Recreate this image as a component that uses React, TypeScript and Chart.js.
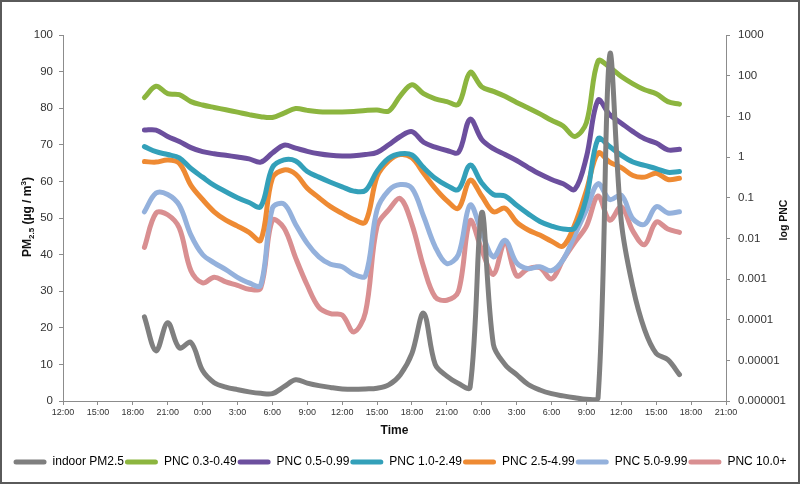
import React, { useEffect, useRef } from 'react';
import { Chart, registerables } from 'chart.js';

Chart.register(...registerables);

// hours since 0:00 of the first day (19 = 19:00 day 1, 65 = 17:00 day 3)
const HOURS = [19, 20, 21, 22, 23, 24, 25, 26, 27, 28, 29, 30, 31, 32, 33, 34, 35, 36, 37, 38, 39, 40, 41, 42, 43, 44, 45, 46, 47, 48, 49, 50, 51, 52, 53, 54, 55, 56, 57, 58, 59, 60, 61, 62, 63, 64, 65];

const INDOOR_PM25 = [23, 13.7, 21.4, 14.5, 16, 8.3, 5, 3.8, 3.1, 2.5, 2.1, 2.0, 3.9, 5.8, 4.9, 4.2, 3.7, 3.3, 3.2, 3.3, 3.5, 4.4, 7.2, 13, 24, 10, 6.8, 4.8, 3.7, 51.5, 15.5, 10, 7.2, 4.5, 3, 2, 1.4, 0.9, 0.5, 0.8, 94.5, 49, 31, 19.5, 13, 11.3, 7.2];

const PNC_03_049 = [29, 55, 36, 34, 23, 19, 16.5, 14.5, 12.7, 11, 9.8, 9.4, 12, 15.5, 14, 13, 12.8, 12.8, 13.2, 14, 14.4, 13.5, 32, 60, 36, 27, 23, 20, 120, 53, 41, 31, 22, 16, 11.5, 8, 5.8, 3.2, 7, 230, 160, 95, 63, 45, 36, 23, 20];

const PNC_05_099 = [4.6, 4.6, 3.2, 2.4, 1.7, 1.35, 1.2, 1.1, 1.0, 0.9, 0.75, 1.25, 1.95, 1.65, 1.38, 1.2, 1.1, 1.06, 1.07, 1.15, 1.3, 2.0, 3.2, 4.2, 2.3, 1.75, 1.45, 1.3, 8.5, 2.7, 1.6, 1.15, 0.82, 0.55, 0.38, 0.28, 0.22, 0.16, 1.0, 25, 11, 6.8, 4.2, 2.8, 2.2, 1.5, 1.55];

const PNC_10_249 = [1.8, 1.35, 1.15, 0.95, 0.52, 0.32, 0.2, 0.14, 0.1, 0.076, 0.06, 0.55, 0.85, 0.8, 0.44, 0.32, 0.24, 0.185, 0.145, 0.15, 0.45, 0.93, 1.2, 1.12, 0.55, 0.3, 0.2, 0.16, 0.63, 0.23, 0.12, 0.11, 0.065, 0.04, 0.026, 0.02, 0.017, 0.018, 0.1, 2.8, 1.8, 1.1, 0.75, 0.62, 0.52, 0.42, 0.44];

const PNC_25_499 = [0.77, 0.75, 0.84, 0.7, 0.2, 0.09, 0.045, 0.028, 0.02, 0.014, 0.009, 0.3, 0.48, 0.38, 0.17, 0.1, 0.06, 0.041, 0.029, 0.025, 0.33, 0.8, 1.15, 0.95, 0.4, 0.17, 0.085, 0.055, 0.27, 0.11, 0.045, 0.055, 0.025, 0.016, 0.012, 0.0085, 0.0065, 0.022, 0.15, 1.25, 0.75, 0.55, 0.35, 0.32, 0.4, 0.28, 0.3];

const PNC_50_999 = [0.045, 0.13, 0.12, 0.065, 0.012, 0.004, 0.0025, 0.0017, 0.0011, 0.0008, 0.0007, 0.055, 0.07, 0.022, 0.0075, 0.0035, 0.0023, 0.002, 0.0013, 0.0012, 0.05, 0.15, 0.21, 0.17, 0.035, 0.0062, 0.0024, 0.004, 0.066, 0.014, 0.0035, 0.009, 0.0025, 0.0018, 0.002, 0.0016, 0.003, 0.012, 0.05, 0.22, 0.09, 0.115, 0.03, 0.022, 0.06, 0.042, 0.045];

const PNC_100_PLUS = [0.006, 0.042, 0.038, 0.018, 0.0016, 0.0008, 0.0011, 0.00085, 0.0007, 0.00056, 0.0006, 0.028, 0.018, 0.0033, 0.0007, 0.0002, 0.00014, 0.00013, 0.00005, 0.00015, 0.02, 0.05, 0.095, 0.022, 0.002, 0.00036, 0.0003, 0.0005, 0.027, 0.0052, 0.0013, 0.008, 0.0012, 0.0018, 0.0019, 0.001, 0.003, 0.008, 0.02, 0.11, 0.028, 0.06, 0.015, 0.007, 0.025, 0.017, 0.014];

const SERIES_LABELS = ['indoor PM2.5', 'PNC 0.3-0.49', 'PNC 0.5-0.99', 'PNC 1.0-2.49', 'PNC 2.5-4.99', 'PNC 5.0-9.99', 'PNC 10.0+'];
const SERIES_COLORS = ['#7f7f7f', '#8cb53f', '#6c4f9e', '#33a0b9', '#ee8a33', '#94b1dc', '#d98f91'];

const X_MIN = 12;
const X_MAX = 69;
const X_STEP = 3;

const LEFT_MIN = 0;
const LEFT_MAX = 100;
const LEFT_STEP = 10;

const RIGHT_TICK_VALUES = [0.000001, 0.00001, 0.0001, 0.001, 0.01, 0.1, 1, 10, 100, 1000];
const RIGHT_TICK_LABELS = ['0.000001', '0.00001', '0.0001', '0.001', '0.01', '0.1', '1', '10', '100', '1000'];

const X_TITLE = 'Time';
const RIGHT_TITLE = 'log PNC';

const FONT = '"Liberation Sans", Arial, Helvetica, sans-serif';

type Part = { text: string; size: number; dy: number };

function drawRotated(ctx: CanvasRenderingContext2D, parts: Part[], cx: number, cy: number) {
  ctx.save();
  ctx.translate(cx, cy);
  ctx.rotate(-Math.PI / 2);
  ctx.textAlign = 'left';
  ctx.textBaseline = 'alphabetic';
  ctx.fillStyle = '#111';
  let total = 0;
  for (const p of parts) {
    ctx.font = `bold ${p.size}px ${FONT}`;
    total += ctx.measureText(p.text).width;
  }
  let x = -total / 2;
  for (const p of parts) {
    ctx.font = `bold ${p.size}px ${FONT}`;
    ctx.fillText(p.text, x, 4 + p.dy);
    x += ctx.measureText(p.text).width;
  }
  ctx.restore();
}

const titlesPlugin = {
  id: 'verticalTitles',
  afterDraw(chart: any) {
    const ctx = chart.ctx as CanvasRenderingContext2D;
    const area = chart.chartArea;
    const cy = (area.top + area.bottom) / 2;
    drawRotated(
      ctx,
      [
        { text: 'PM', size: 12, dy: 0 },
        { text: '2.5', size: 8, dy: 3 },
        { text: ' (µg / m', size: 12, dy: 0 },
        { text: '3', size: 8, dy: -5 },
        { text: ')', size: 12, dy: 0 },
      ],
      25,
      cy - 1
    );
    drawRotated(ctx, [{ text: RIGHT_TITLE, size: 10.5, dy: 0 }], 781, cy + 2);
  },
};

export default function App() {
  const canvasRef = useRef<HTMLCanvasElement | null>(null);

  useEffect(() => {
    const canvas = canvasRef.current;
    if (!canvas) return;
    const seriesValues = [INDOOR_PM25, PNC_03_049, PNC_05_099, PNC_10_249, PNC_25_499, PNC_50_999, PNC_100_PLUS];
    const datasets = seriesValues.map((vals, i) => ({
      label: SERIES_LABELS[i],
      data: HOURS.map((h, j) => ({ x: h, y: vals[j] })),
      yAxisID: i === 0 ? 'y' : 'y1',
      borderColor: SERIES_COLORS[i],
      backgroundColor: SERIES_COLORS[i],
      borderWidth: 5,
      borderCapStyle: 'round' as const,
      borderJoinStyle: 'round' as const,
      pointRadius: 0,
      pointHoverRadius: 0,
      tension: 0.35,
      fill: false,
    }));

    const axisColor = '#8c8c8c';

    const chart = new Chart(canvas, {
      type: 'line',
      data: { datasets },
      plugins: [titlesPlugin],
      options: {
        animation: false,
        responsive: false,
        maintainAspectRatio: false,
        layout: { padding: { top: 33, left: 0, right: 0, bottom: 4 } },
        plugins: {
          tooltip: { enabled: false },
          legend: {
            display: true,
            position: 'bottom',
            labels: {
              boxWidth: 33,
              boxHeight: 5,
              padding: 1,
              color: '#222',
              useBorderRadius: true,
              borderRadius: 2.5,
              font: { family: FONT, size: 12 },
              generateLabels: (c: any) =>
                c.data.datasets.map((d: any, i: number) => ({
                  text: d.label,
                  fillStyle: SERIES_COLORS[i],
                  strokeStyle: SERIES_COLORS[i],
                  lineWidth: 0,
                  hidden: false,
                  datasetIndex: i,
                  borderRadius: 2.5,
                })),
            },
          },
        },
        scales: {
          x: {
            type: 'linear',
            min: X_MIN,
            max: X_MAX,
            afterFit: (s: any) => {
              s.height = 54;
            },
            ticks: {
              stepSize: X_STEP,
              autoSkip: false,
              maxRotation: 0,
              padding: 2,
              color: '#333',
              font: { family: FONT, size: 9 },
              callback: (v: any) => `${Number(v) % 24}:00`,
            },
            grid: { drawOnChartArea: false, drawTicks: true, tickLength: 4, color: axisColor },
            border: { display: true, color: axisColor, width: 1 },
            title: {
              display: true,
              text: X_TITLE,
              color: '#111',
              font: { family: FONT, size: 12, weight: 'bold' },
              padding: { top: 0, bottom: 17 },
            },
          },
          y: {
            type: 'linear',
            position: 'left',
            min: LEFT_MIN,
            max: LEFT_MAX,
            afterFit: (s: any) => {
              s.width = 61;
            },
            ticks: {
              stepSize: LEFT_STEP,
              padding: 6,
              color: '#333',
              font: { family: FONT, size: 11.5 },
            },
            grid: { drawOnChartArea: false, drawTicks: true, tickLength: 4, color: axisColor },
            border: { display: true, color: axisColor, width: 1 },
          },
          y1: {
            type: 'logarithmic',
            position: 'right',
            min: RIGHT_TICK_VALUES[0],
            max: RIGHT_TICK_VALUES[RIGHT_TICK_VALUES.length - 1],
            afterFit: (s: any) => {
              s.width = 72;
            },
            afterBuildTicks: (s: any) => {
              s.ticks = RIGHT_TICK_VALUES.map((v) => ({ value: v }));
            },
            ticks: {
              padding: 8,
              color: '#333',
              font: { family: FONT, size: 11.5 },
              callback: (v: any) => {
                const idx = RIGHT_TICK_VALUES.indexOf(Number(v));
                return idx >= 0 ? RIGHT_TICK_LABELS[idx] : '';
              },
            },
            grid: { drawOnChartArea: false, drawTicks: true, tickLength: 4, color: axisColor },
            border: { display: true, color: axisColor, width: 1 },
          },
        },
      } as any,
    });

    return () => {
      chart.destroy();
    };
  }, []);

  return (
    <div
      style={{
        position: 'absolute',
        left: 0,
        top: 0,
        width: 800,
        height: 484,
        boxSizing: 'border-box',
        border: '2px solid #5a5a5a',
        background: '#ffffff',
      }}
    >
      <canvas ref={canvasRef} width={796} height={480} style={{ display: 'block', width: 796, height: 480 }} />
    </div>
  );
}
